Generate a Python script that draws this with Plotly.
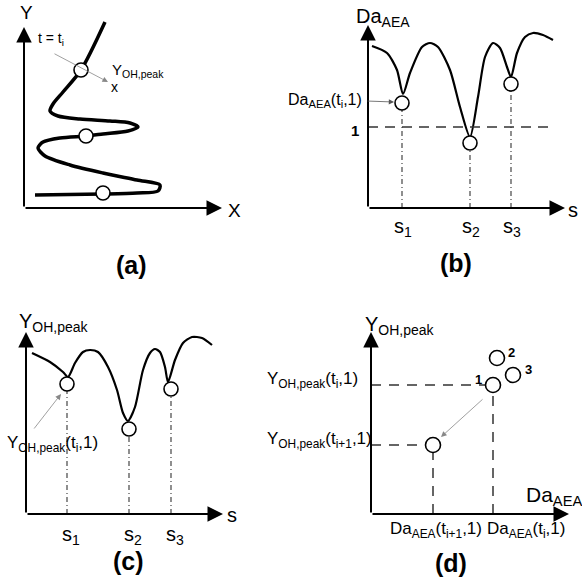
import plotly.graph_objects as go

FONT = "Liberation Sans, Arial, sans-serif"

# ---------- panel (a): trajectory in the X-Y plane with OH-peak locations ----------
a_x = [81, 57, 39, 29, 26, 34, 56, 86, 106, 114, 104, 79, 62, 36, 19, 14, 21, 46, 79, 113, 136, 134, 113, 79, 11]
a_y = [186, 138, 116, 104, 97, 92, 89, 87, 85, 81, 77, 74, 72, 70, 66, 60, 52, 43, 35, 28, 23, 17, 15, 14, 13]
a_peak_x = [57, 62, 79]
a_peak_y = [138, 72, 15]

# ---------- panel (b): Da_AEA along the trajectory coordinate s ----------
b_s = [4, 19, 29, 35, 42, 54, 62, 70, 82, 92, 102, 110, 117, 125, 132, 139, 143, 149, 157, 165, 175, 185]
b_da = [162, 155, 138, 114, 135, 161, 165, 161, 138, 101, 71, 111, 151, 165, 160, 141, 131, 155, 171, 175, 173, 168]
b_peak_s = [34, 102, 143]
b_peak_da = [105, 65, 124]
b_one_level = 81
b_one_end = 180
s_ticks = ["s<sub>1</sub>", "s<sub>2</sub>", "s<sub>3</sub>"]

# ---------- panel (c): Y_OH,peak along s ----------
c_s = [6, 24, 37, 42, 49, 57, 64, 72, 82, 91, 97, 102, 109, 117, 124, 129, 134, 139, 142, 149, 157, 166, 176, 186]
c_y = [161, 152, 142, 137, 151, 162, 164, 162, 147, 124, 101, 93, 107, 144, 161, 165, 162, 147, 132, 154, 171, 177, 176, 169]
c_peak_s = [41, 103, 145]
c_peak_y = [130, 85, 125]

# ---------- panel (d): Y_OH,peak vs Da_AEA ----------
d_da = [122, 126, 142, 62]
d_y = [129, 156, 139, 69]
d_labels = ["1", "2", "3"]

panels = {
    "a": dict(xa="x", ya="y", xdom=[0, 0.5], ydom=[0.5, 1], xr=[-24, 267], yr=[-82, 208]),
    "b": dict(xa="x2", ya="y2", xdom=[0.5, 1], ydom=[0.5, 1], xr=[-77, 214], yr=[-82, 208]),
    "c": dict(xa="x3", ya="y3", xdom=[0, 0.5], ydom=[0, 0.5], xr=[-26, 265], yr=[-66, 224]),
    "d": dict(xa="x4", ya="y4", xdom=[231 / 582, 1], ydom=[0, 0.5], xr=[-140, 211], yr=[-66, 224]),
}

fig = go.Figure()
ann = []

def line(p, x, y, width=2, dash="solid", color="black", shape="linear", smoothing=1.0):
    fig.add_trace(go.Scatter(x=x, y=y, mode="lines", xaxis=panels[p]["xa"], yaxis=panels[p]["ya"],
                             line=dict(color=color, width=width, dash=dash, shape=shape, smoothing=smoothing),
                             hoverinfo="skip", showlegend=False))

def circles(p, x, y, size=14):
    fig.add_trace(go.Scatter(x=x, y=y, mode="markers", xaxis=panels[p]["xa"], yaxis=panels[p]["ya"],
                             marker=dict(size=size, color="white", line=dict(color="black", width=1.6)),
                             hoverinfo="skip", showlegend=False))

def text(p, x, y, t, size=16, xanchor="center", yanchor="middle", bold=False):
    ann.append(dict(x=x, y=y, xref=panels[p]["xa"], yref=panels[p]["ya"], text=("<b>%s</b>" % t) if bold else t,
                    showarrow=False, xanchor=xanchor, yanchor=yanchor,
                    font=dict(family=FONT, size=size, color="black")))

def arrow(p, x0, y0, x1, y1, width=2, color="black", head=2, hsize=1.0):
    ann.append(dict(x=x1, y=y1, ax=x0, ay=y0, xref=panels[p]["xa"], yref=panels[p]["ya"],
                    axref=panels[p]["xa"], ayref=panels[p]["ya"], text="", showarrow=True,
                    arrowhead=head, arrowsize=hsize, arrowwidth=width, arrowcolor=color, standoff=0, startstandoff=0))

AX_HEAD = 1.55

# ----- panel (a)
line("a", a_x, a_y, width=3.5, shape="spline", smoothing=0.8)
circles("a", a_peak_x, a_peak_y, size=14)
arrow("a", 0, 0, 0, 181, hsize=AX_HEAD)
arrow("a", 0, 0, 198, 0, hsize=AX_HEAD)
text("a", 2, 196, "Y", size=19)
text("a", 210, -2, "X", size=19)
text("a", 27, 169, "t = t<sub>i</sub>", size=14)
arrow("a", 29, 155, 84, 126, width=0.8, color="#888", hsize=1.4)
text("a", 86, 138, "Y<sub>OH,peak</sub>", size=15, xanchor="left")
text("a", 90, 121, "x", size=14)
text("a", 107, -57, "(a)", size=25, bold=True)

# ----- panel (b)
line("b", b_s, b_da, width=2.2, shape="spline", smoothing=0.7)
line("b", [0, b_one_end], [b_one_level, b_one_level], width=1.3, dash="10px,7px", color="#333")
for s, v in zip(b_peak_s, b_peak_da):
    line("b", [s, s], [0, v], width=1.1, dash="5px,3px,1px,3px", color="#333")
circles("b", b_peak_s, b_peak_da, size=14)
arrow("b", 0, 0, 0, 183, hsize=AX_HEAD)
arrow("b", 0, 0, 197, 0, hsize=AX_HEAD)
text("b", -14, 191, "Da<sub>AEA</sub>", size=20, xanchor="left")
text("b", 205, -2, "s", size=20)
text("b", -13, 78, "1", size=15, bold=True)
text("b", -4, 108, "Da<sub>AEA</sub>(t<sub>i</sub>,1)", size=16, xanchor="right")
arrow("b", -2, 107, 26, 106, width=0.8, color="#555", hsize=1.3)
for s, t in zip(b_peak_s, s_ticks):
    text("b", s + 1, -19, t, size=20)
text("b", 88, -55, "(b)", size=25, bold=True)

# ----- panel (c)
line("c", c_s, c_y, width=2.2, shape="spline", smoothing=0.7)
for s, v in zip(c_peak_s, c_peak_y):
    line("c", [s, s], [0, v], width=1.1, dash="5px,3px,1px,3px", color="#333")
circles("c", c_peak_s, c_peak_y, size=14)
text("c", 26, 70, "Y<sub>OH,peak</sub>(t<sub>i</sub>,1)", size=17)
arrow("c", 0, 0, 0, 182, hsize=AX_HEAD)
arrow("c", 0, 0, 197, 0, hsize=AX_HEAD)
arrow("c", 7, 84, 35, 120, width=0.8, color="#888", hsize=1.4)
text("c", -9, 192, "Y<sub>OH,peak</sub>", size=20, xanchor="left")
text("c", 206, -1, "s", size=20)
for s, t in zip(c_peak_s, s_ticks):
    text("c", s + 4, -21, t, size=20)
text("c", 102, -47, "(c)", size=25, bold=True)

# ----- panel (d)
for i in (0, 3):
    line("d", [0, d_da[i]], [d_y[i], d_y[i]], width=1.5, dash="10px,8px", color="#333")
    line("d", [d_da[i], d_da[i]], [0, d_y[i]], width=1.5, dash="10px,8px", color="#333")
circles("d", d_da, d_y, size=15)
for xv, yv, lab, dx in zip(d_da[:3], d_y[:3], d_labels, [-15, 14, 15]):
    text("d", xv + dx, yv + 6, lab, size=13, bold=True)
arrow("d", 113, 116, 70, 77, width=0.8, color="#888", hsize=1.4)
arrow("d", 0, 0, 0, 182, hsize=AX_HEAD)
arrow("d", 0, 0, 198, 0, hsize=AX_HEAD)
text("d", -8, 189, "Y<sub>OH,peak</sub>", size=20, xanchor="left")
text("d", 153, 18, "Da<sub>AEA</sub>", size=21, xanchor="left")
text("d", -106, 134, "Y<sub>OH,peak</sub>(t<sub>i</sub>,1)", size=17, xanchor="left")
text("d", -106, 74, "Y<sub>OH,peak</sub>(t<sub>i+1</sub>,1)", size=17, xanchor="left")
text("d", d_da[3] + 3, -16, "Da<sub>AEA</sub>(t<sub>i+1</sub>,1)", size=17)
text("d", d_da[0] + 33, -16, "Da<sub>AEA</sub>(t<sub>i</sub>,1)", size=17)
text("d", 80, -49, "(d)", size=25, bold=True)

layout = dict(width=582, height=580, margin=dict(l=0, r=0, t=0, b=0),
              paper_bgcolor="white", plot_bgcolor="white", showlegend=False, annotations=ann)
for k, p in panels.items():
    xs = "xaxis" + p["xa"][1:]
    ys = "yaxis" + p["ya"][1:]
    layout[xs] = dict(domain=p["xdom"], range=p["xr"], visible=False, fixedrange=True, anchor=p["ya"])
    layout[ys] = dict(domain=p["ydom"], range=p["yr"], visible=False, fixedrange=True, anchor=p["xa"])
fig.update_layout(**layout)
fig.write_html("out.html")
